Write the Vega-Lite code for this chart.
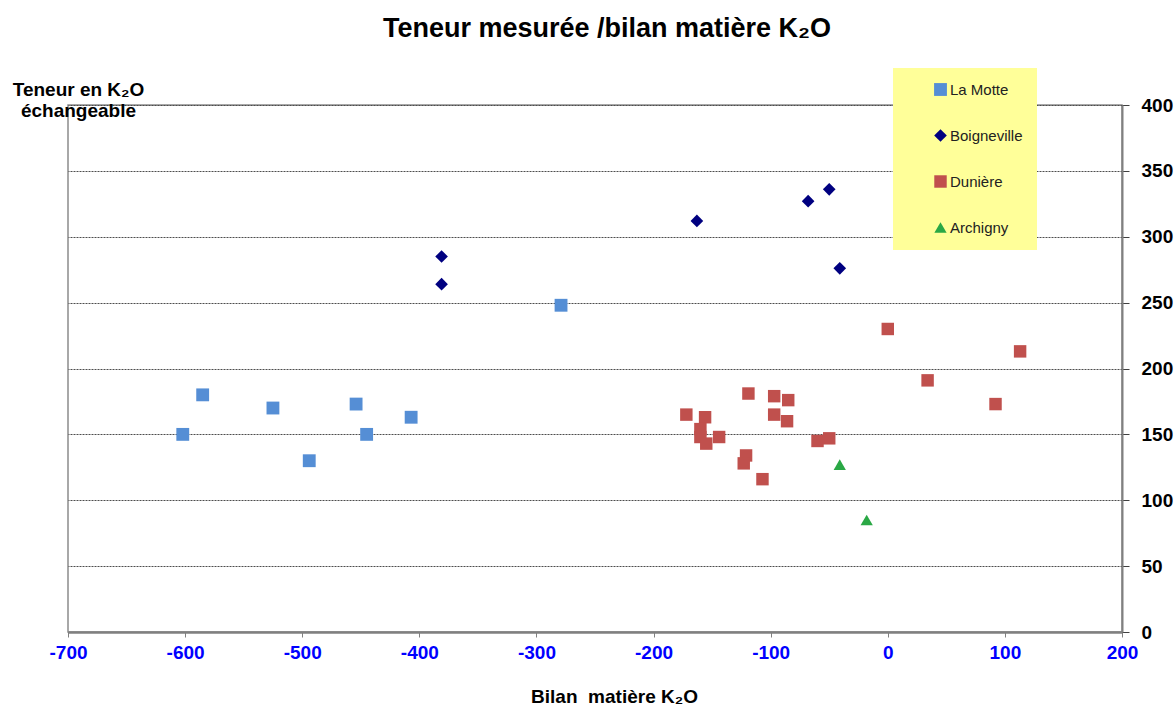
{
  "$schema": "https://vega.github.io/schema/vega-lite/v6.json",
  "width": 1054,
  "height": 527,
  "autosize": "none",
  "padding": {"left": 68, "top": 105, "right": 54, "bottom": 79},
  "background": "white",
  "config": {
    "view": {"stroke": "#8c8c8c", "strokeWidth": 1.5},
    "font": "Liberation Sans"
  },
  "title": {
    "text": "Teneur mesurée /bilan matière K₂O",
    "font": "Liberation Sans",
    "fontSize": 27,
    "fontWeight": "bold",
    "color": "black",
    "anchor": "middle",
    "dx": 12,
    "offset": 25
  },
  "data": {
    "values": [
      {"site": "La Motte", "bilan": -602, "teneur": 150},
      {"site": "La Motte", "bilan": -585, "teneur": 180},
      {"site": "La Motte", "bilan": -525, "teneur": 170},
      {"site": "La Motte", "bilan": -494, "teneur": 130},
      {"site": "La Motte", "bilan": -454, "teneur": 173},
      {"site": "La Motte", "bilan": -445, "teneur": 150},
      {"site": "La Motte", "bilan": -407, "teneur": 163},
      {"site": "La Motte", "bilan": -279, "teneur": 248},
      {"site": "Boigneville", "bilan": -381, "teneur": 285},
      {"site": "Boigneville", "bilan": -381, "teneur": 264},
      {"site": "Boigneville", "bilan": -163, "teneur": 312},
      {"site": "Boigneville", "bilan": -68, "teneur": 327},
      {"site": "Boigneville", "bilan": -50, "teneur": 336},
      {"site": "Boigneville", "bilan": -41, "teneur": 276},
      {"site": "Dunière", "bilan": 0, "teneur": 230},
      {"site": "Dunière", "bilan": 113, "teneur": 213},
      {"site": "Dunière", "bilan": 34, "teneur": 191},
      {"site": "Dunière", "bilan": 92, "teneur": 173},
      {"site": "Dunière", "bilan": -172, "teneur": 165},
      {"site": "Dunière", "bilan": -156, "teneur": 163},
      {"site": "Dunière", "bilan": -160, "teneur": 154},
      {"site": "Dunière", "bilan": -160, "teneur": 148},
      {"site": "Dunière", "bilan": -155, "teneur": 143},
      {"site": "Dunière", "bilan": -144, "teneur": 148},
      {"site": "Dunière", "bilan": -119, "teneur": 181},
      {"site": "Dunière", "bilan": -97, "teneur": 179},
      {"site": "Dunière", "bilan": -85, "teneur": 176},
      {"site": "Dunière", "bilan": -97, "teneur": 165},
      {"site": "Dunière", "bilan": -86, "teneur": 160},
      {"site": "Dunière", "bilan": -121, "teneur": 134},
      {"site": "Dunière", "bilan": -123, "teneur": 128},
      {"site": "Dunière", "bilan": -107, "teneur": 116},
      {"site": "Dunière", "bilan": -60, "teneur": 145},
      {"site": "Dunière", "bilan": -50, "teneur": 147},
      {"site": "Archigny", "bilan": -41, "teneur": 127},
      {"site": "Archigny", "bilan": -18, "teneur": 85}
    ]
  },
  "mark": {"type": "point", "filled": true, "opacity": 1},
  "encoding": {
    "x": {
      "field": "bilan",
      "type": "quantitative",
      "scale": {"domain": [-700, 200], "nice": false, "zero": false},
      "axis": {
        "title": "Bilan\u00a0 matière K₂O",
        "titleFont": "Liberation Sans",
        "titleFontSize": 19,
        "titleFontWeight": "bold",
        "titleColor": "black",
        "titlePadding": 25,
        "titleX": 546,
        "values": [-700, -600, -500, -400, -300, -200, -100, 0, 100, 200],
        "labelExpr": "'' + datum.value",
        "labelColor": "#0000FF",
        "labelFontSize": 19,
        "labelFontWeight": "bold",
        "labelPadding": 6,
        "labelFlush": false,
        "domainColor": "#808080",
        "domainWidth": 2.5,
        "tickColor": "#808080",
        "tickSize": 5,
        "grid": false
      }
    },
    "y": {
      "field": "teneur",
      "type": "quantitative",
      "scale": {"domain": [0, 400], "nice": false},
      "axis": {
        "orient": "right",
        "values": [0, 50, 100, 150, 200, 250, 300, 350, 400],
        "title": ["Teneur en K₂O", "échangeable"],
        "titleAngle": 0,
        "titleAlign": "center",
        "titleBaseline": "alphabetic",
        "titleX": -1044,
        "titleY": -10,
        "titleLineHeight": 21,
        "titleFont": "Liberation Sans",
        "titleFontSize": 19,
        "titleFontWeight": "bold",
        "titleColor": "black",
        "labelColor": "black",
        "labelFontSize": 19,
        "labelFontWeight": "bold",
        "labelPadding": 12,
        "labelFlush": false,
        "domainColor": "#808080",
        "domainWidth": 2,
        "tickColor": "#404040",
        "tickSize": 7,
        "grid": true,
        "gridColor": "#4d4d4d",
        "gridDash": [2, 1],
        "gridWidth": 1
      }
    },
    "size": {
      "field": "site",
      "type": "nominal",
      "scale": {
        "domain": ["La Motte", "Boigneville", "Dunière", "Archigny"],
        "range": [165, 150, 210, 150]
      },
      "legend": null
    },
    "color": {
      "field": "site",
      "type": "nominal",
      "scale": {
        "domain": ["La Motte", "Boigneville", "Dunière", "Archigny"],
        "range": ["#558ED5", "#000080", "#C0504D", "#2AA845"]
      },
      "legend": {
        "orient": "none",
        "legendX": 825,
        "legendY": -37,
        "title": null,
        "fillColor": "#FFFF99",
        "padding": 14,
        "symbolOffset": 26,
        "symbolSize": 100,
        "rowPadding": 30,
        "labelFontSize": 15,
        "labelColor": "#222222",
        "labelOffset": 2,
        "encode": {
          "labels": {"update": {
            "fill": {"signal": "datum.value === 'Boigneville' ? '#1F3F7F' : '#222222'"},
            "text": {"signal": "datum.label + '\u00a0\u00a0\u00a0\u00a0\u00a0\u00a0\u00a0'"}
          }}
        }
      }
    },
    "shape": {
      "field": "site",
      "type": "nominal",
      "scale": {
        "domain": ["La Motte", "Boigneville", "Dunière", "Archigny"],
        "range": ["square", "diamond", "square", "triangle-up"]
      },
      "legend": {
        "orient": "none",
        "legendX": 825,
        "legendY": -37,
        "title": null,
        "fillColor": "#FFFF99",
        "padding": 14,
        "symbolOffset": 26,
        "symbolSize": 100,
        "rowPadding": 30,
        "labelFontSize": 15,
        "labelColor": "#222222",
        "labelOffset": 2,
        "encode": {
          "labels": {"update": {
            "fill": {"signal": "datum.value === 'Boigneville' ? '#1F3F7F' : '#222222'"},
            "text": {"signal": "datum.label + '\u00a0\u00a0\u00a0\u00a0\u00a0\u00a0\u00a0'"}
          }}
        }
      }
    }
  }
}
